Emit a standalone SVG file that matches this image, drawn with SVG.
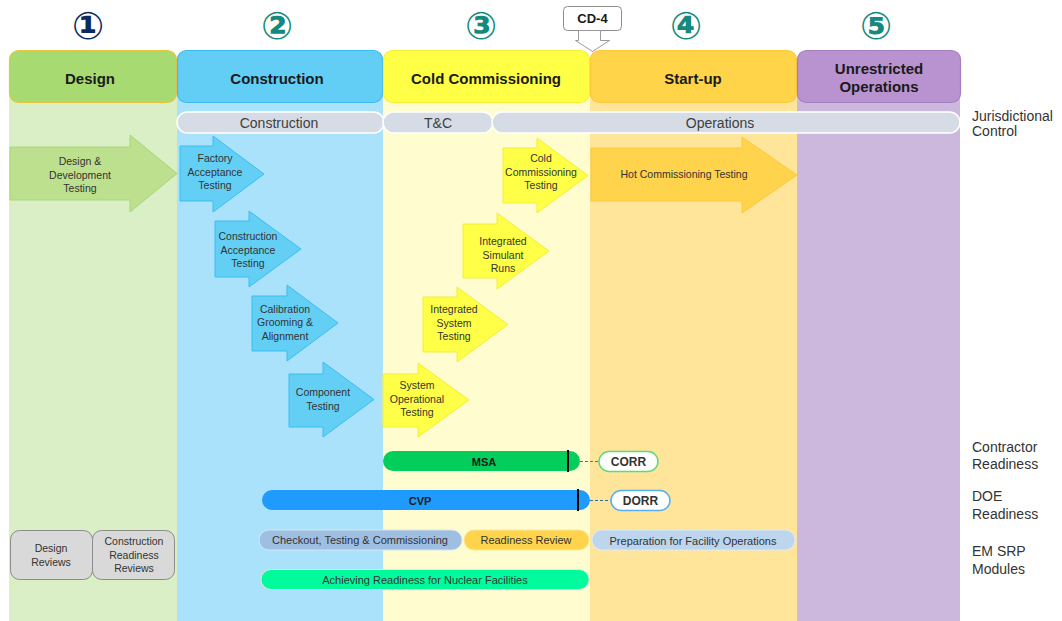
<svg xmlns="http://www.w3.org/2000/svg" width="1062" height="621" viewBox="0 0 1062 621">
<defs>
<style>
.num{font-family:"DejaVu Sans",sans-serif;font-size:38px;font-weight:bold;text-anchor:middle;dominant-baseline:central}
.hdr{font-family:"Liberation Sans",Arial,sans-serif;font-size:15px;font-weight:bold;fill:#1a1a1a;text-anchor:middle;dominant-baseline:central}
.jc{fill:#d6dce5;stroke:#ffffff;stroke-width:1.5}
.jct{font-family:"Liberation Sans",Arial,sans-serif;font-size:14px;fill:#404040;text-anchor:middle;dominant-baseline:central}
.at{font-family:"Liberation Sans",Arial,sans-serif;font-size:10.5px;fill:#333333;text-anchor:middle;dominant-baseline:central}
.rl{font-family:"Liberation Sans",Arial,sans-serif;font-size:14px;fill:#333333}
.bt{font-family:"Liberation Sans",Arial,sans-serif;font-size:11px;fill:#333333;text-anchor:middle;dominant-baseline:central}
.bb{font-family:"Liberation Sans",Arial,sans-serif;font-size:11px;font-weight:bold;fill:#1a1a1a;text-anchor:middle;dominant-baseline:central}
.pb{font-family:"Liberation Sans",Arial,sans-serif;font-size:12px;font-weight:bold;fill:#333333;text-anchor:middle;dominant-baseline:central}
.green{fill:#bde08f;stroke:#a6d77a;stroke-width:1}
.blue{fill:#63cff5;stroke:#3bbdf0;stroke-width:1}
.yel{fill:#ffff47;stroke:#f2ee3a;stroke-width:1}
.orn{fill:#ffd34b;stroke:#ffc83c;stroke-width:1}
.rev{fill:#d9d9d9;stroke:#8c8c8c;stroke-width:1}
</style>
</defs>

<!-- column backgrounds -->
<g id="backgrounds">
<rect x="9" y="90" width="168" height="531" fill="#daefc5"/>
<rect x="177" y="90" width="206" height="531" fill="#abe2fb"/>
<rect x="383" y="90" width="207" height="531" fill="#fffdcf"/>
<rect x="590" y="90" width="207" height="531" fill="#fee59a"/>
<rect x="797" y="90" width="163" height="531" fill="#cbb8dc"/>
</g>

<!-- phase numbers -->
<g id="numbers">
<text class="num" x="88" y="26" fill="#0b2a5e">①</text>
<text class="num" x="277" y="26" fill="#138a7d">②</text>
<text class="num" x="481" y="26" fill="#138a7d">③</text>
<text class="num" x="686" y="26" fill="#138a7d">④</text>
<text class="num" x="876" y="26" fill="#138a7d">⑤</text>
</g>

<!-- headers -->
<g id="hdr-design">
<rect x="9.5" y="50.5" width="167" height="52" rx="9" fill="#a8da72" stroke="#e8c53e" stroke-width="1.2"/>
<text class="hdr" x="90" y="78">Design</text>
</g>
<g id="hdr-construction">
<rect x="177.5" y="50.5" width="205" height="52" rx="9" fill="#62cdf5" stroke="#3dbaef" stroke-width="1.2"/>
<text class="hdr" x="277" y="78">Construction</text>
</g>
<g id="hdr-cold">
<rect x="383.5" y="50.5" width="206" height="52" rx="9" fill="#ffff45" stroke="#f7ef3a" stroke-width="1.2"/>
<text class="hdr" x="486" y="78">Cold Commissioning</text>
</g>
<g id="hdr-startup">
<rect x="590.5" y="50.5" width="206" height="52" rx="9" fill="#ffd448" stroke="#ffc83a" stroke-width="1.2"/>
<text class="hdr" x="693" y="78">Start-up</text>
</g>
<g id="hdr-unrestricted">
<rect x="797.5" y="50.5" width="163" height="52" rx="9" fill="#b893cf" stroke="#a57ec2" stroke-width="1.2"/>
<text class="hdr" x="879" y="68">Unrestricted</text>
<text class="hdr" x="879" y="86">Operations</text>
</g>

<!-- CD-4 callout -->
<g id="cd4">
<rect x="563.5" y="6.5" width="58" height="24" rx="4" fill="#ffffff" stroke="#8c8c8c" stroke-width="1"/>
<text class="pb" x="592.5" y="18.5" style="font-size:13px;fill:#1a1a1a">CD-4</text>
<path d="M578.5 30.5 V40.5 H575.5 L592.5 51.5 L609.5 40.5 H600.5 V30.5 Z" fill="#ffffff" stroke="#9a9a9a" stroke-width="1"/>
</g>

<!-- jurisdictional control -->
<g id="jc-construction">
<rect class="jc" x="177" y="112" width="207" height="21" rx="10.5"/>
<text class="jct" x="279" y="122.5">Construction</text>
</g>
<g id="jc-tc">
<rect class="jc" x="383" y="112" width="110" height="21" rx="10.5"/>
<text class="jct" x="438" y="122.5">T&amp;C</text>
</g>
<g id="jc-operations">
<rect class="jc" x="492" y="112" width="468" height="21" rx="10.5"/>
<text class="jct" x="720" y="122.5">Operations</text>
</g>

<!-- testing arrows -->
<g id="a-ddt">
<path class="green" d="M10 147 H130 V135 L177 173.5 L130 212 V200 H10 Z"/>
<text class="at" x="80" y="161">Design &amp;</text>
<text class="at" x="80" y="175">Development</text>
<text class="at" x="80" y="188">Testing</text>
</g>
<g id="a-fat">
<path class="blue" d="M180 146 H213 V136 L264 174 L213 212 V201 H180 Z"/>
<text class="at" x="215" y="158">Factory</text>
<text class="at" x="215" y="172">Acceptance</text>
<text class="at" x="215" y="185">Testing</text>
</g>
<g id="a-cat">
<path class="blue" d="M215 221 H249 V211 L301 249 L249 287 V277 H215 Z"/>
<text class="at" x="248" y="236">Construction</text>
<text class="at" x="248" y="250">Acceptance</text>
<text class="at" x="248" y="263">Testing</text>
</g>
<g id="a-cga">
<path class="blue" d="M252 296 H287 V285 L338 323 L287 361 V351 H252 Z"/>
<text class="at" x="285" y="309">Calibration</text>
<text class="at" x="285" y="322">Grooming &amp;</text>
<text class="at" x="285" y="336">Alignment</text>
</g>
<g id="a-ct">
<path class="blue" d="M289 374 H323 V362 L374 399.5 L323 437 V427 H289 Z"/>
<text class="at" x="323" y="392">Component</text>
<text class="at" x="323" y="406">Testing</text>
</g>
<g id="a-sot">
<path class="yel" d="M383 374 H418 V363 L469 400 L418 437 V427 H383 Z"/>
<text class="at" x="417" y="385">System</text>
<text class="at" x="417" y="399">Operational</text>
<text class="at" x="417" y="412">Testing</text>
</g>
<g id="a-ist">
<path class="yel" d="M423 297 H457 V287 L508 324.5 L457 362 V352 H423 Z"/>
<text class="at" x="454" y="309">Integrated</text>
<text class="at" x="454" y="323">System</text>
<text class="at" x="454" y="336">Testing</text>
</g>
<g id="a-isr">
<path class="yel" d="M463 224 H497 V213 L549 251 L497 289 V278 H463 Z"/>
<text class="at" x="503" y="241">Integrated</text>
<text class="at" x="503" y="255">Simulant</text>
<text class="at" x="503" y="268">Runs</text>
</g>
<g id="a-cct">
<path class="yel" d="M503 148 H537 V138 L588 175.5 L537 213 V203 H503 Z"/>
<text class="at" x="541" y="158">Cold</text>
<text class="at" x="541" y="172">Commissioning</text>
<text class="at" x="541" y="185">Testing</text>
</g>
<g id="a-hct">
<path class="orn" d="M591 148 H742 V137 L797 175 L742 213 V201 H591 Z"/>
<text class="at" x="684" y="174">Hot  Commissioning Testing</text>
</g>

<!-- connectors -->
<g id="connectors" fill="none" stroke-width="1" stroke-dasharray="3,2">
<line x1="580" y1="461.5" x2="599" y2="461.5" stroke="#1a9a4a"/>
<line x1="590" y1="500.5" x2="611" y2="500.5" stroke="#2a6aa0"/>
</g>

<!-- readiness bars -->
<g id="msa">
<rect x="383" y="451" width="197" height="20" rx="10" fill="#02cf5b"/>
<line x1="568" y1="450" x2="568" y2="472" stroke="#000000" stroke-width="2"/>
<text class="bb" x="484" y="461.5">MSA</text>
</g>
<g id="corr">
<rect x="599" y="451.5" width="59" height="20" rx="10" fill="#ffffff" stroke="#5ddb7c" stroke-width="1.5"/>
<text class="pb" x="628.5" y="461.5">CORR</text>
</g>
<g id="cvp">
<rect x="262" y="490" width="328" height="20" rx="10" fill="#1e9bfd"/>
<line x1="578" y1="489" x2="578" y2="511" stroke="#000000" stroke-width="2"/>
<text class="bb" x="420" y="500.5">CVP</text>
</g>
<g id="dorr">
<rect x="611" y="490.5" width="59" height="20" rx="10" fill="#ffffff" stroke="#5aaef0" stroke-width="1.5"/>
<text class="pb" x="640.5" y="500.5">DORR</text>
</g>
<g id="ctc">
<rect x="259" y="530" width="203" height="20" rx="10" fill="#9ebee2" stroke="#d6e4f2" stroke-width="1"/>
<text class="bt" x="360" y="540">Checkout, Testing &amp; Commissioning</text>
</g>
<g id="rr">
<rect x="464" y="530" width="125" height="20" rx="10" fill="#ffd34b" stroke="#fde69a" stroke-width="1"/>
<text class="bt" x="526" y="540">Readiness Review</text>
</g>
<g id="pfo">
<rect x="592" y="530" width="203" height="20" rx="10" fill="#bdd6ee" stroke="#dde9f5" stroke-width="1"/>
<text class="bt" x="693" y="540.5">Preparation  for Facility Operations</text>
</g>
<g id="arnf">
<rect x="261" y="569.5" width="328" height="20" rx="10" fill="#00fb9c" stroke="#c8f5dc" stroke-width="1"/>
<text class="bt" x="425" y="579.5">Achieving Readiness for  Nuclear Facilities</text>
</g>

<!-- reviews -->
<g id="design-reviews">
<rect class="rev" x="10.5" y="530.5" width="82" height="49" rx="9"/>
<text class="at" x="51" y="548">Design</text>
<text class="at" x="51" y="562">Reviews</text>
</g>
<g id="construction-readiness-reviews">
<rect class="rev" x="92.5" y="530.5" width="82" height="49" rx="9"/>
<text class="at" x="134" y="541">Construction</text>
<text class="at" x="134" y="555">Readiness</text>
<text class="at" x="134" y="568">Reviews</text>
</g>

<!-- right side labels -->
<g id="labels">
<text class="rl" x="972" y="121">Jurisdictional</text>
<text class="rl" x="972" y="136">Control</text>
<text class="rl" x="972" y="452">Contractor</text>
<text class="rl" x="972" y="469">Readiness</text>
<text class="rl" x="972" y="501">DOE</text>
<text class="rl" x="972" y="519">Readiness</text>
<text class="rl" x="972" y="556">EM SRP</text>
<text class="rl" x="972" y="574">Modules</text>
</g>
</svg>
